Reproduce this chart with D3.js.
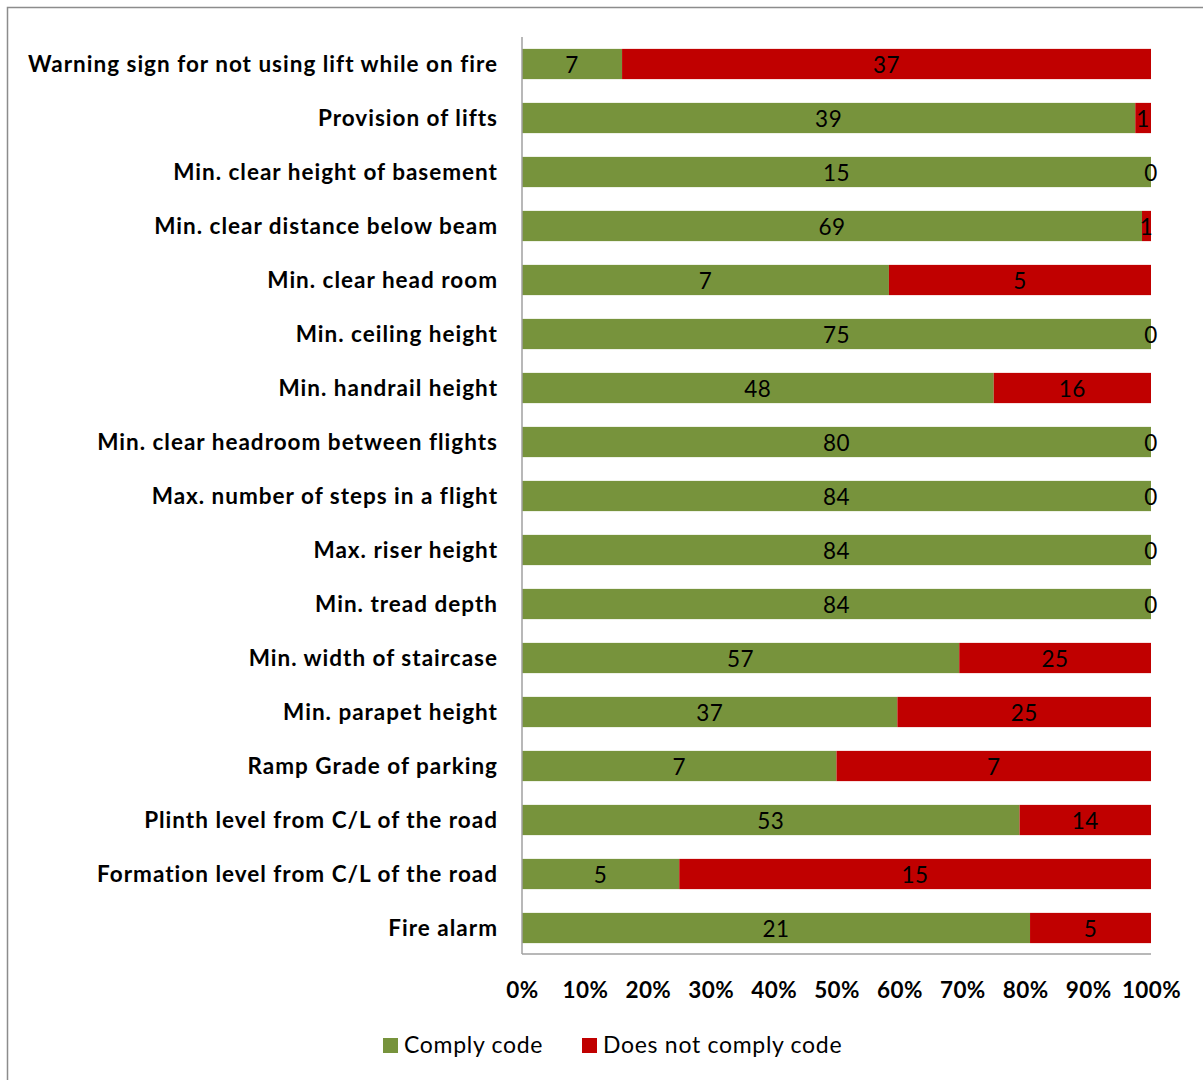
<!DOCTYPE html>
<html>
<head>
<meta charset="utf-8">
<script src="https://cdn.jsdelivr.net/npm/d3@7"></script>
<style>
  html, body { margin: 0; padding: 0; background: #fff; }
  svg { display: block; }
  text { font-family: Lato, "Open Sans", sans-serif; }
</style>
</head>
<body>
<svg id="chart" width="1203" height="1080"></svg>
<script>
// Building-code compliance checks, top to bottom
const categories = [
  "Warning sign for not using lift while on fire",
  "Provision of lifts",
  "Min. clear height of basement",
  "Min. clear distance below beam",
  "Min. clear head room",
  "Min. ceiling height",
  "Min. handrail height",
  "Min. clear headroom between flights",
  "Max. number of steps in a flight",
  "Max. riser height",
  "Min. tread depth",
  "Min. width of staircase",
  "Min. parapet height",
  "Ramp Grade of parking",
  "Plinth level from C/L of the road",
  "Formation level from C/L of the road",
  "Fire alarm"
];
const comply    = [7, 39, 15, 69, 7, 75, 48, 80, 84, 84, 84, 57, 37, 7, 53, 5, 21];
const notComply = [37, 1, 0, 1, 5, 0, 16, 0, 0, 0, 0, 25, 25, 7, 14, 15, 5];
const seriesNames = ["Comply code", "Does not comply code"];
const seriesColors = ["#77933C", "#C00000"];
const tickValues = [0, 0.1, 0.2, 0.3, 0.4, 0.5, 0.6, 0.7, 0.8, 0.9, 1.0];

const svg = d3.select("#chart");

// outer frame
svg.append("rect")
  .attr("x", 7.5).attr("y", 7.5)
  .attr("width", 1210).attr("height", 1090)
  .attr("fill", "none").attr("stroke", "#8c8c8c").attr("stroke-width", 1.5);

const plot = { left: 522, right: 1151, top: 37, bottom: 955 };

const rows = categories.map((c, i) => {
  const total = comply[i] + notComply[i];
  return { cat: c, vals: [comply[i], notComply[i]], total };
});

const x = d3.scaleLinear().domain([0, 1]).range([plot.left, plot.right]);
const y = d3.scaleBand().domain(categories)
  .range([plot.top, plot.bottom]).paddingInner(0.44).paddingOuter(0.22);

// stacked segments
const stack = d3.stack().keys([0, 1]).value((d, k) => d.vals[k] / d.total);
const layers = stack(rows);

layers.forEach((layer, k) => {
  svg.append("g").selectAll("rect")
    .data(layer)
    .join("rect")
    .attr("x", d => x(d[0]))
    .attr("y", d => y(d.data.cat))
    .attr("width", d => x(d[1]) - x(d[0]))
    .attr("height", y.bandwidth())
    .attr("fill", seriesColors[k]);
});

// value labels centred on each segment
layers.forEach((layer, k) => {
  svg.append("g").selectAll("text")
    .data(layer)
    .join("text")
    .attr("x", d => (x(d[0]) + x(d[1])) / 2)
    .attr("y", d => y(d.data.cat) + y.bandwidth() / 2)
    .attr("dy", "0.38em")
    .attr("text-anchor", "middle")
    .attr("font-size", 22.5)
    .attr("letter-spacing", 0.5)
    .attr("fill", "#000")
    .text(d => d.data.vals[k]);
});

// axis lines
svg.append("line")
  .attr("x1", plot.left).attr("x2", plot.left)
  .attr("y1", plot.top).attr("y2", plot.bottom - 1)
  .attr("stroke", "#a0a0a0").attr("stroke-width", 1.5);
svg.append("line")
  .attr("x1", plot.left).attr("x2", plot.right)
  .attr("y1", plot.bottom - 1).attr("y2", plot.bottom - 1)
  .attr("stroke", "#a0a0a0").attr("stroke-width", 1.5);

// category axis labels
const yAxis = d3.axisLeft(y).tickSize(0).tickPadding(24);
const gy = svg.append("g").attr("transform", `translate(${plot.left},0)`).call(yAxis);
gy.select(".domain").remove();
gy.selectAll("text")
  .attr("font-size", 22.5).attr("font-weight", "bold").attr("fill", "#000")
  .attr("letter-spacing", 1)
  .attr("dy", "0.34em")
  .style("font-family", "Lato, 'Open Sans', sans-serif");

// percentage axis
const xAxis = d3.axisBottom(x).tickValues(tickValues)
  .tickFormat(d3.format(".0%")).tickSize(0).tickPadding(27);
const gx = svg.append("g").attr("transform", `translate(0,${plot.bottom})`).call(xAxis);
gx.select(".domain").remove();
gx.selectAll("text")
  .attr("font-size", 22.5).attr("font-weight", "bold").attr("fill", "#000")
  .attr("letter-spacing", 0.4)
  .style("font-family", "Lato, 'Open Sans', sans-serif");

// legend
const legend = svg.append("g").attr("transform", "translate(383,1045)");
const legendX = [0, 199];
seriesNames.forEach((name, k) => {
  const g = legend.append("g").attr("transform", `translate(${legendX[k]},0)`);
  g.append("rect").attr("x", 0).attr("y", -7).attr("width", 15).attr("height", 15)
    .attr("fill", seriesColors[k]);
  g.append("text").attr("x", 21).attr("y", 0).attr("dy", "0.36em")
    .attr("font-size", 23).attr("letter-spacing", 0.7)
    .attr("fill", "#000").text(name);
});
</script>
</body>
</html>
